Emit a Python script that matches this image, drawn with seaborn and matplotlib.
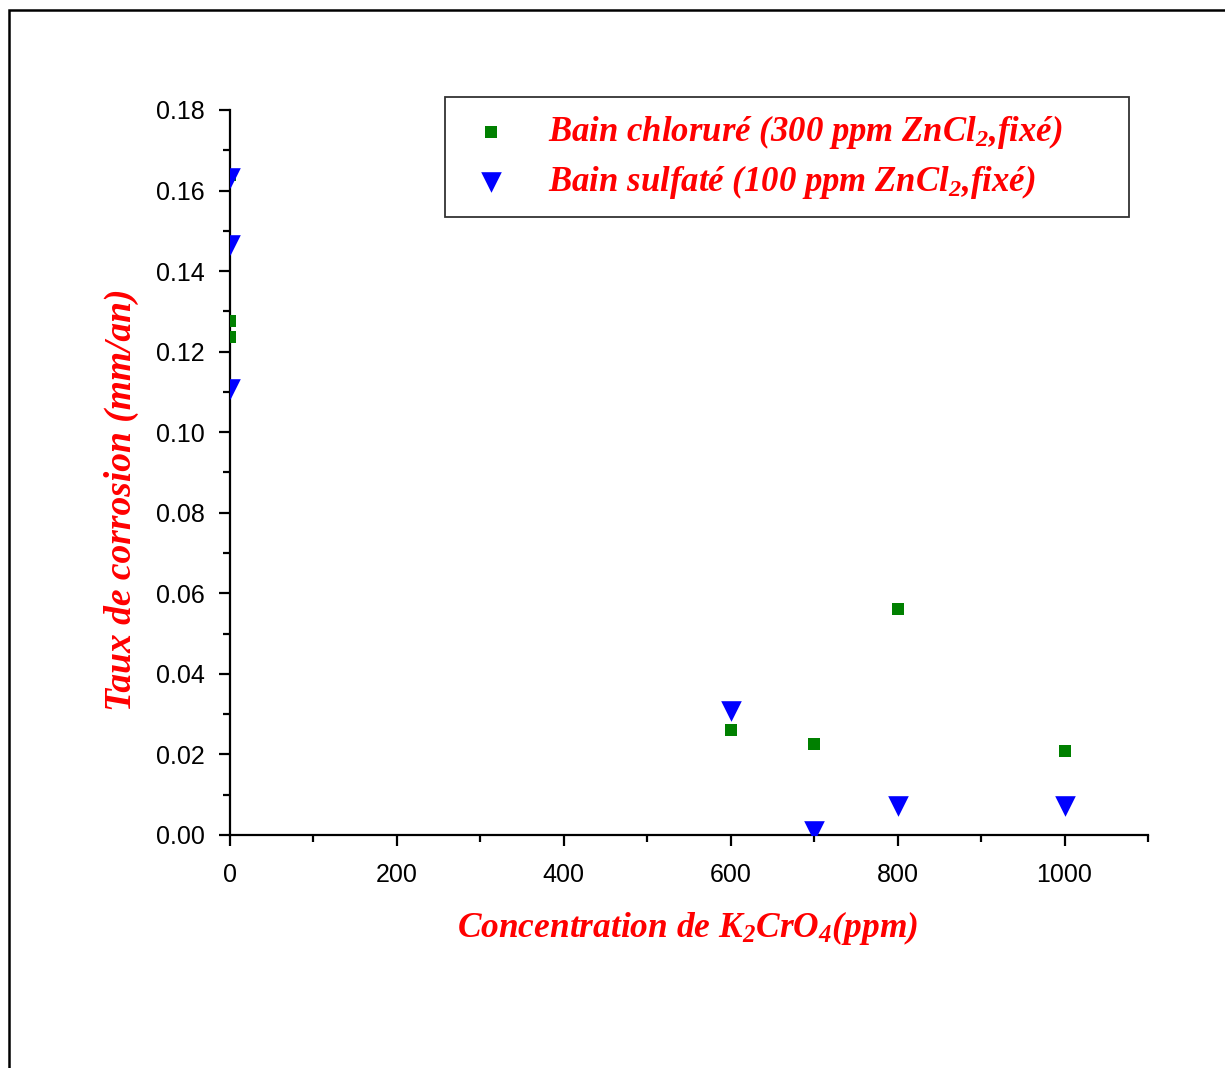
import matplotlib
matplotlib.use("Agg")
import matplotlib.pyplot as plt
from matplotlib.patches import Rectangle
from matplotlib.ticker import MultipleLocator, FormatStrFormatter
import seaborn as sns
import pandas as pd

# Data
chlor_x = [0, 0, 0, 600, 700, 800, 1000]
chlor_y = [0.1638, 0.1276, 0.1236, 0.0261, 0.0226, 0.0561, 0.0209]
sulf_x = [0, 0, 0, 600, 700, 800, 1000]
sulf_y = [0.163, 0.1465, 0.1107, 0.0308, 0.0010, 0.0072, 0.0072]

label_chlor = r"Bain chloruré (300 ppm ZnCl$_2$,fixé)"
label_sulf = r"Bain sulfaté (100 ppm ZnCl$_2$,fixé)"
xlabel = r"Concentration de K$_2$CrO$_4$(ppm)"
ylabel = "Taux de corrosion (mm/an)"

sns.set_theme(style="ticks")
plt.rcParams["font.family"] = ["Liberation Sans", "DejaVu Sans"]
plt.rcParams["mathtext.fontset"] = "custom"
plt.rcParams["mathtext.rm"] = "Liberation Serif:italic:bold"
plt.rcParams["mathtext.it"] = "Liberation Serif:italic:bold"
plt.rcParams["mathtext.bf"] = "Liberation Serif:italic:bold"
plt.rcParams["mathtext.default"] = "rm"

df_c = pd.DataFrame({"x": chlor_x, "y": chlor_y})
df_s = pd.DataFrame({"x": sulf_x, "y": sulf_y})

fig = plt.figure(figsize=(12.25, 10.68), dpi=100)
fig.patch.set_facecolor("white")
ax = fig.add_axes([230/1225, 1-835/1068, (1148-230)/1225, (835-110)/1068])

sns.scatterplot(data=df_c, x="x", y="y", ax=ax, marker="s", color="#008000",
                s=70, linewidth=0, label=label_chlor, zorder=3)
sns.scatterplot(data=df_s, x="x", y="y", ax=ax, marker="v", color="#0000FF",
                s=220, linewidth=0, label=label_sulf, zorder=3)

ax.set_xlim(0, 1100)
ax.set_ylim(0, 0.18)
ax.xaxis.set_major_locator(MultipleLocator(200))
ax.xaxis.set_minor_locator(MultipleLocator(100))
ax.yaxis.set_major_locator(MultipleLocator(0.02))
ax.yaxis.set_minor_locator(MultipleLocator(0.01))
ax.yaxis.set_major_formatter(FormatStrFormatter("%.2f"))

for sp in ["top", "right"]:
    ax.spines[sp].set_visible(False)
for sp in ["left", "bottom"]:
    ax.spines[sp].set_linewidth(1.6)
    ax.spines[sp].set_color("black")

ax.tick_params(which="major", direction="out", length=8, width=1.6, labelsize=18, colors="black")
ax.tick_params(which="minor", direction="out", length=5, width=1.6, colors="black")
ax.tick_params(axis="y", which="major", pad=10)
ax.tick_params(axis="x", which="major", pad=12)

ax.set_xlabel(xlabel, family="Liberation Serif", style="italic", weight="bold", size=25.5, color="red")
ax.set_ylabel(ylabel, family="Liberation Serif", style="italic", weight="bold", size=27, color="red")
ax.xaxis.set_label_coords((688-230)/918, (835-928)/725)
ax.xaxis.label.set_va("center")
ax.yaxis.set_label_coords((121-230)/918, (835-500)/725)
ax.yaxis.label.set_va("center")

fs = 25
leg = ax.legend(loc="upper left",
                bbox_to_anchor=(445/1225, 1-215/1068, (1129-445)/1225, (215-97)/1068),
                bbox_transform=fig.transFigure, mode="expand", frameon=True, fancybox=False,
                prop=dict(family="Liberation Serif", style="italic", weight="bold", size=fs),
                borderpad=0.47, handletextpad=0.8, labelspacing=0.33,
                borderaxespad=0, handlelength=1.7)
leg.get_frame().set_edgecolor("black")
leg.get_frame().set_linewidth(1.3)
for t in leg.get_texts():
    t.set_color("red")

# outer frame
fig.patches.append(Rectangle((9/1225, -0.1), 1.2, 1-10/1068+0.1, transform=fig.transFigure,
                             fill=False, edgecolor="black", linewidth=1.8, zorder=0))

fig.savefig("out.png", dpi=100)
